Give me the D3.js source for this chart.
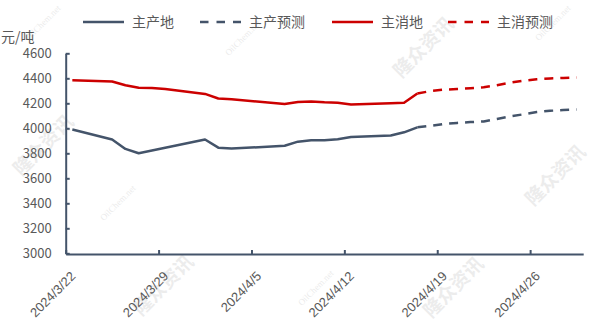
<!DOCTYPE html>
<html>
<head>
<meta charset="utf-8">
<script src="https://cdn.jsdelivr.net/npm/d3@7/dist/d3.min.js"></script>
<style>
  html, body { margin: 0; padding: 0; background: #ffffff; }
  svg { display: block; font-family: "Noto Sans CJK SC", "Noto Sans", sans-serif; }
</style>
</head>
<body>
<svg id="chart" width="592" height="331"></svg>
<script>
// ---- data ----
const actualDates = ["2024-03-22","2024-03-25","2024-03-26","2024-03-27","2024-03-28","2024-03-29",
  "2024-04-01","2024-04-02","2024-04-03","2024-04-07","2024-04-08","2024-04-09","2024-04-10",
  "2024-04-11","2024-04-12","2024-04-15","2024-04-16","2024-04-17"];
const producerActual = [3990,3910,3835,3800,3822,3845,3910,3845,3838,3860,3893,3905,3905,3912,3930,3942,3968,4008];
const consumerActual = [4385,4375,4345,4325,4322,4315,4275,4238,4232,4195,4211,4215,4208,4205,4190,4200,4205,4278];

const forecastDates = ["2024-04-17","2024-04-18","2024-04-19","2024-04-20","2024-04-21","2024-04-22",
  "2024-04-23","2024-04-24","2024-04-25","2024-04-26","2024-04-27","2024-04-28","2024-04-29"];
const producerForecast = [4008,4020,4035,4043,4050,4055,4075,4095,4112,4130,4140,4146,4150];
const consumerForecast = [4278,4298,4309,4314,4320,4328,4345,4365,4380,4392,4399,4403,4407];

const xTickLabels = ["2024/3/22","2024/3/29","2024/4/5","2024/4/12","2024/4/19","2024/4/26"];
const yTicks = [3000,3200,3400,3600,3800,4000,4200,4400,4600];
const seriesNames = ["主产地","主产预测","主消地","主消预测"];
const unitLabel = "元/吨";

// ---- setup ----
const svg = d3.select("#chart");
const blue = "#44546A", red = "#CC0000", textCol = "#595959";
const parse = d3.timeParse("%Y-%m-%d");
const DAY = 864e5;
const startDate = parse("2024-03-22");
const endDate = new Date(+parse("2024-04-29") + DAY);

const x = d3.scaleTime().domain([startDate, endDate]).range([65.7, 583.2]);
const y = d3.scaleLinear().domain([3000, 4600]).range([253.3, 53.3]);
const mid = d => new Date(+d + DAY / 2);

// watermarks
const wm = svg.append("g").attr("pointer-events", "none");
[[48,150],[168,290],[428,52],[458,292],[560,180]].forEach(p => {
  wm.append("text").attr("transform", `translate(${p[0]},${p[1]}) rotate(-45)`)
    .attr("text-anchor","middle").attr("font-size", 19).attr("font-weight", "bold")
    .attr("fill", "#000").attr("opacity", 0.07).text("隆众资讯");
});
[[45,25],[245,40],[318,290],[555,25],[120,205]].forEach(p => {
  wm.append("text").attr("transform", `translate(${p[0]},${p[1]}) rotate(-45)`)
    .attr("text-anchor","middle").attr("font-size", 9).attr("font-family","Liberation Serif, serif")
    .attr("fill", "#000").attr("opacity", 0.08).text("OilChem.net");
});

// y axis
const yAxis = d3.axisLeft(y).tickValues(yTicks).tickFormat(d3.format("d"))
  .tickSizeInner(-4).tickSizeOuter(0).tickPadding(14);
const gy = svg.append("g").attr("transform", "translate(65.7,0)").call(yAxis);
gy.select(".domain").attr("stroke", blue).attr("stroke-width", 2);
gy.selectAll(".tick line").attr("stroke", blue).attr("stroke-width", 2);
gy.selectAll(".tick text").attr("fill", textCol).attr("font-size", 13).attr("font-family", "Noto Sans CJK SC, sans-serif");

// x axis
const xTickDates = xTickLabels.map(s => d3.timeParse("%Y/%m/%d")(s));
const xAxis = d3.axisBottom(x).tickValues(xTickDates).tickSizeInner(-4).tickSizeOuter(0)
  .tickFormat((d, i) => xTickLabels[i]);
const gx = svg.append("g").attr("transform", "translate(0,254)").call(xAxis);
gx.select(".domain").attr("stroke", blue).attr("stroke-width", 2);
gx.selectAll(".tick line").attr("stroke", blue).attr("stroke-width", 2);
const halfDay = x(mid(startDate)) - x(startDate);
gx.selectAll(".tick text")
  .attr("fill", textCol).attr("font-size", 13)
  .attr("text-anchor", "end").attr("dy", null).attr("y", 0)
  .attr("transform", `translate(${halfDay + 3.5},23) rotate(-45)`);

// lines
const line = d3.line().x(d => x(mid(d.date))).y(d => y(d.v));
const mk = (dates, vals) => dates.map((s, i) => ({ date: parse(s), v: vals[i] }));
const series = [
  { data: mk(actualDates, producerActual), color: blue, dash: null },
  { data: mk(forecastDates, producerForecast), color: blue, dash: "9,7" },
  { data: mk(actualDates, consumerActual), color: red, dash: null },
  { data: mk(forecastDates, consumerForecast), color: red, dash: "9,7" }
];
series.forEach(s => {
  svg.append("path").datum(s.data).attr("d", line)
    .attr("fill", "none").attr("stroke", s.color).attr("stroke-width", 2.5)
    .attr("stroke-linejoin", "round")
    .attr("stroke-dasharray", s.dash);
});

// legend
const legendX = [83, 200, 332, 448];
const legend = svg.append("g");
series.forEach((s, i) => {
  const g = legend.append("g").attr("transform", `translate(${legendX[i]},22)`);
  g.append("line").attr("x1", 0).attr("x2", 41).attr("y1", 0).attr("y2", 0)
    .attr("stroke", s.color).attr("stroke-width", 2.5).attr("stroke-dasharray", s.dash ? "8.5,8" : null);
  g.append("text").attr("x", 49).attr("y", 0).attr("dy", "0.35em")
    .attr("fill", textCol).attr("font-size", 14).text(seriesNames[i]);
});

// unit label
svg.append("text").attr("x", 1).attr("y", 37).attr("dy", "0.35em")
  .attr("fill", textCol).attr("font-size", 14).text(unitLabel);
</script>
</body>
</html>
